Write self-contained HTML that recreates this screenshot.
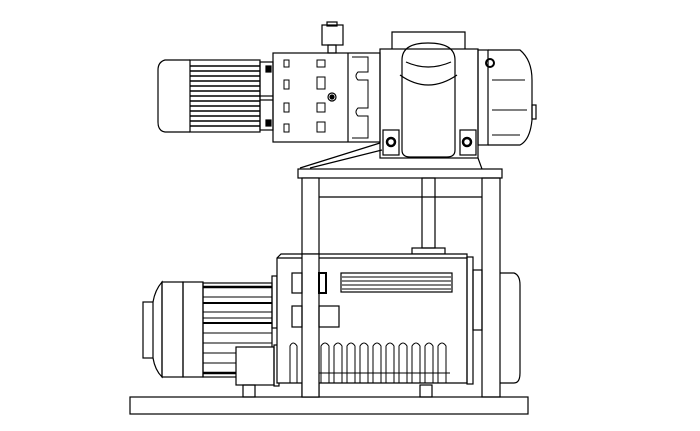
<!DOCTYPE html>
<html><head><meta charset="utf-8"><style>html,body{margin:0;padding:0;background:#fff}svg{display:block}</style></head>
<body>
<svg width="700" height="431" viewBox="0 0 700 431" xmlns="http://www.w3.org/2000/svg" fill="none" stroke="#000" stroke-width="1.2">
<rect width="700" height="431" fill="#fff" stroke="none"/>
<!-- base plate -->
<rect x="130" y="397" width="398" height="17"/>
<!-- frame -->
<rect x="298" y="169" width="204" height="9"/>
<rect x="302" y="178" width="17" height="219" fill="#fff"/>
<rect x="482" y="178" width="18" height="219"/>
<line x1="319" y1="197" x2="482" y2="197"/>
<rect x="422" y="178" width="13" height="70"/>
<rect x="412" y="248" width="33" height="6"/>
<!-- lower motor -->
<rect x="143" y="302" width="10" height="56"/>
<path d="M153 302 Q155 290 162 282 L162 377 Q155 370 153 358"/>
<rect x="162" y="282" width="21" height="95"/>
<rect x="183" y="282" width="20" height="95"/>
<rect x="203" y="283" width="69" height="94"/>
<g stroke-width="1">
<line x1="203" y1="287" x2="272" y2="287" stroke-width="2.5"/>
<line x1="203" y1="297" x2="272" y2="297"/>
<line x1="203" y1="303" x2="272" y2="303" stroke-width="2"/>
<line x1="203" y1="312" x2="272" y2="312"/>
<line x1="203" y1="318" x2="272" y2="318"/>
<line x1="203" y1="323" x2="272" y2="323" stroke-width="2"/>
<line x1="203" y1="333" x2="272" y2="333"/>
<line x1="203" y1="343" x2="272" y2="343"/>
<line x1="203" y1="353" x2="236" y2="353"/>
<line x1="203" y1="363" x2="236" y2="363"/>
<line x1="203" y1="373" x2="272" y2="373" stroke-width="2.5"/>
</g>
<rect x="272" y="276" width="5" height="52"/>
<rect x="236" y="347" width="38" height="38" fill="#fff"/>
<rect x="274" y="345" width="5" height="41"/>
<rect x="243" y="385" width="12" height="12"/>
<rect x="420" y="385" width="12" height="12"/>
<!-- lower pump body -->
<path d="M277 383 L277 258 L281 254 L467 254 L467 383 Z" fill="#fff"/>
<line x1="277" y1="258" x2="467" y2="258"/>
<rect x="302" y="254" width="17" height="143" fill="#fff"/>
<rect x="292" y="273" width="10" height="20"/>
<rect x="319" y="273" width="7" height="20" stroke-width="2"/>
<rect x="341" y="273" width="111" height="19"/>
<g stroke-width="1"><line x1="342" y1="277" x2="451" y2="277"/><line x1="342" y1="281" x2="451" y2="281"/><line x1="342" y1="285" x2="451" y2="285"/><line x1="342" y1="289" x2="451" y2="289"/></g>
<rect x="292" y="306" width="10" height="21"/>
<rect x="319" y="306" width="20" height="21"/>
<g stroke-width="1">
<path d="M290 383 L290 346 Q293 340 297 346 L297 383"/>
<path d="M321 383 L321 346 Q325 340 329 346 L329 383 M334 383 L334 346 Q338 340 342 346 L342 383 M347 383 L347 346 Q351 340 355 346 L355 383 M360 383 L360 346 Q364 340 368 346 L368 383 M373 383 L373 346 Q377 340 381 346 L381 383 M386 383 L386 346 Q390 340 394 346 L394 383 M399 383 L399 346 Q403 340 407 346 L407 383 M412 383 L412 346 Q416 340 420 346 L420 383 M425 383 L425 346 Q429 340 433 346 L433 383 M438 383 L438 346 Q442 340 446 346 L446 383"/>
<line x1="319" y1="373" x2="450" y2="373"/>
</g>
<rect x="467" y="257" width="6" height="127"/>
<rect x="473" y="270" width="9" height="60"/>
<path d="M500 273 L514 273 Q520 275 520 285 L520 373 Q520 383 514 383 L500 383"/>
<!-- top motor -->
<path d="M190 60 L165 60 Q158 62 158 70 L158 122 Q158 131 165 132 L190 132"/>
<rect x="190" y="60" width="70" height="72"/>
<g stroke-width="1.6">
<line x1="190" y1="66" x2="260" y2="66"/><line x1="190" y1="71" x2="260" y2="71"/><line x1="190" y1="76" x2="260" y2="76"/><line x1="190" y1="81" x2="260" y2="81"/><line x1="190" y1="86" x2="260" y2="86"/><line x1="190" y1="91" x2="260" y2="91"/><line x1="190" y1="96" x2="260" y2="96"/><line x1="190" y1="101" x2="260" y2="101"/><line x1="190" y1="106" x2="260" y2="106"/><line x1="190" y1="111" x2="260" y2="111"/><line x1="190" y1="116" x2="260" y2="116"/><line x1="190" y1="121" x2="260" y2="121"/><line x1="190" y1="126" x2="260" y2="126"/>
</g>
<rect x="260" y="62" width="13" height="68"/>
<line x1="260" y1="96" x2="273" y2="96"/><line x1="260" y1="100" x2="273" y2="100"/>
<rect x="266" y="66" width="5" height="6" fill="#000"/><rect x="266" y="120" width="5" height="6" fill="#000"/>
<!-- gear housing -->
<rect x="273" y="53" width="107" height="89"/>
<line x1="348" y1="53" x2="348" y2="142"/>
<g stroke-width="1">
<rect x="284" y="60" width="5" height="7"/><rect x="284" y="80" width="5" height="9"/><rect x="284" y="103" width="5" height="9"/><rect x="284" y="124" width="5" height="8"/>
<rect x="317" y="60" width="8" height="7"/><rect x="317" y="77" width="8" height="12"/><rect x="317" y="103" width="8" height="9"/><rect x="317" y="122" width="8" height="10"/>
<path d="M352 57 L368 57 L368 72 L358 72 Q354 76 358 80 L368 80 L368 108 L358 108 Q354 112 358 116 L368 116 L368 138 L352 138"/>
</g>
<circle cx="332" cy="97" r="4"/><circle cx="332" cy="97" r="2" fill="#000"/>
<rect x="322" y="25" width="21" height="20"/><rect x="327" y="22" width="10" height="4"/>
<rect x="328" y="45" width="8" height="8"/>
<!-- center block -->
<rect x="380" y="49" width="98" height="109"/>
<path d="M392 49 L392 32 L465 32 L465 49"/>
<path d="M402 77 L402 60 Q402 43 428 43 Q455 43 455 60 L455 77"/>
<path d="M406 62 Q428 72 451 62"/>
<path d="M400 75 Q428 95 457 75"/>
<path d="M402 77 L402 150 Q402 157 410 157 L447 157 Q455 157 455 150 L455 77"/>
<rect x="383" y="130" width="16" height="25"/><circle cx="391" cy="142" r="4" stroke-width="2.5"/>
<rect x="460" y="130" width="16" height="25"/><circle cx="467" cy="142" r="4" stroke-width="2.5"/>
<path d="M300 168 L380 143"/><path d="M310 168 L382 150"/>
<line x1="478" y1="158" x2="482" y2="169"/>
<!-- right cover -->
<rect x="478" y="50" width="10" height="95"/>
<path d="M488 50 L520 50 Q532 60 532 80 L532 120 Q530 140 520 145 L488 145"/>
<g stroke-width="1"><path d="M492 80 L525 80 M492 110 L527 110 M492 135 L520 135"/></g>
<circle cx="490" cy="63" r="4" stroke-width="2"/>
<rect x="532" y="105" width="4" height="14"/>
</svg>
</body></html>
